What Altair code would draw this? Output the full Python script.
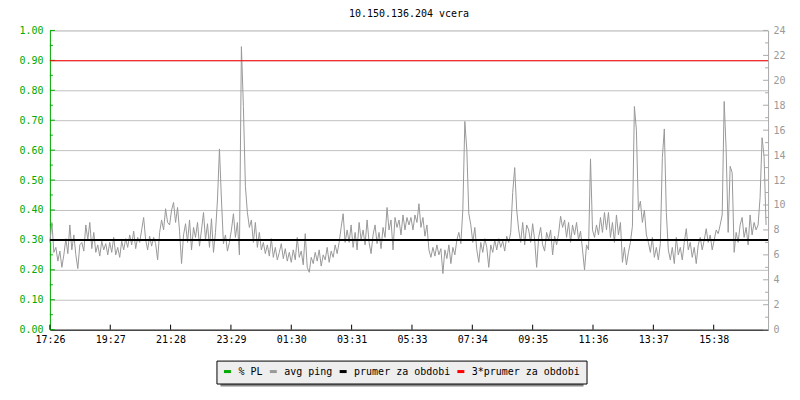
import altair as alt
import pandas as pd

# ---- data (avg ping in ms, one value every 4 minutes from 17:26) ----
ping_a = [7.0, 8.6, 6.2, 6.6, 5.5, 6.3, 5.0, 6.0, 7.3, 6.1, 8.4, 6.4, 7.6, 6.0, 4.9, 6.8, 7.0, 6.3, 8.4, 7.2, 8.6, 6.5, 7.8, 6.2, 6.8, 5.9, 7.1, 6.4, 6.9, 6.0]
ping_b = [7.0, 6.2, 7.4, 6.0, 6.6, 5.8, 7.1, 6.4, 7.3, 6.6, 7.6, 6.8, 7.9, 6.5, 7.4, 7.0, 8.0, 9.0, 7.2, 6.4, 7.5, 6.7, 7.4, 6.9, 5.6, 7.8, 8.8, 8.0, 9.7, 8.6]
ping_c = [8.4, 9.6, 10.2, 8.6, 9.8, 7.9, 5.3, 7.6, 8.5, 7.0, 8.8, 6.4, 8.2, 7.4, 8.6, 6.7, 8.0, 9.4, 7.2, 8.5, 6.6, 8.9, 6.2, 7.8, 10.4, 14.5, 10.4, 6.9, 7.6, 6.3]
ping_d = [7.0, 8.0, 9.3, 7.4, 8.6, 6.0, 22.7, 17.9, 11.5, 9.4, 8.2, 8.8, 7.0, 8.6, 6.6, 7.8, 6.4, 7.0, 6.1, 6.8, 5.9, 7.3, 5.8, 6.6, 5.6, 6.2, 6.9, 5.7, 6.5, 5.5]
ping_e = [6.2, 5.4, 6.4, 5.6, 7.4, 5.8, 6.3, 5.2, 7.7, 5.0, 4.6, 5.8, 5.3, 6.2, 5.5, 6.4, 5.1, 6.0, 5.6, 6.6, 5.4, 6.3, 5.8, 6.8, 6.1, 7.0, 8.2, 9.3, 7.0, 8.0]
ping_f = [7.0, 8.4, 6.6, 7.8, 6.4, 8.6, 7.2, 8.0, 6.8, 8.8, 7.0, 6.1, 7.6, 8.4, 6.9, 7.8, 6.5, 8.2, 7.4, 9.8, 8.0, 8.8, 6.4, 9.0, 8.2, 8.8, 7.6, 9.2, 8.0, 9.0]
ping_g = [8.4, 9.0, 8.0, 9.2, 8.6, 10.1, 8.2, 9.0, 7.5, 8.4, 6.4, 5.8, 6.6, 5.9, 6.8, 6.0, 6.5, 4.5, 6.4, 5.7, 6.8, 5.3, 6.6, 6.0, 7.2, 7.8, 6.9, 9.6, 16.7, 14.4]
ping_h = [9.3, 8.4, 7.0, 8.2, 6.4, 5.4, 7.0, 6.2, 7.3, 6.6, 5.0, 6.8, 6.2, 7.2, 6.4, 7.3, 6.6, 7.1, 6.3, 7.5, 7.0, 7.8, 11.0, 13.0, 9.6, 8.0, 7.0, 8.6, 6.8, 8.4]
ping_i = [8.0, 7.0, 8.5, 7.2, 5.0, 7.4, 8.2, 6.8, 6.3, 7.8, 7.2, 8.0, 6.0, 7.5, 6.8, 7.7, 9.1, 8.2, 8.8, 7.4, 8.6, 7.0, 8.4, 7.6, 8.6, 7.2, 7.9, 6.4, 4.8, 6.8]
ping_j = [6.4, 13.7, 8.0, 7.4, 8.4, 7.6, 9.0, 7.8, 9.4, 8.0, 9.4, 7.4, 8.6, 7.0, 9.2, 7.6, 8.6, 5.4, 6.6, 5.2, 6.2, 7.0, 8.3, 17.9, 16.0, 9.6, 10.3, 8.6, 9.6, 7.6]
ping_k = [7.0, 6.2, 7.4, 5.8, 6.6, 5.6, 6.9, 13.8, 16.1, 9.4, 6.4, 5.6, 6.6, 5.3, 7.4, 6.0, 6.6, 5.6, 7.0, 8.1, 6.4, 7.0, 5.8, 6.6, 5.3, 6.8, 7.4, 6.4, 7.2, 8.1]
ping_l = [7.0, 7.6, 6.4, 7.2, 8.0, 7.7, 8.4, 9.2, 18.3, 14.4, 7.8, 13.1, 12.6, 6.2, 7.8, 7.0, 8.4, 9.0, 7.4, 8.2, 6.8, 9.2, 7.6, 8.6, 8.0, 8.4, 10.6, 15.4, 13.9, 8.4]
ping = ping_a + ping_b + ping_c + ping_d + ping_e + ping_f + ping_g + ping_h + ping_i + ping_j + ping_k + ping_l
step_minutes = 4

prumer = 7.19          # mean over period (ms) -> 0.30 on the left axis
prumer3 = 21.57        # 3 * mean

tick_labels = ["17:26", "19:27", "21:28", "23:29", "01:30", "03:31",
               "05:33", "07:34", "09:35", "11:36", "13:37", "15:38"]
tick_minutes = [0, 121, 242, 363, 484, 605, 726, 847, 968, 1089, 1210, 1331]
left_major = [0.0, 0.1, 0.2, 0.3, 0.4, 0.5, 0.6, 0.7, 0.8, 0.9, 1.0]
left_minor = [0.05, 0.15, 0.25, 0.35, 0.45, 0.55, 0.65, 0.75, 0.85, 0.95]
right_major = [0, 2, 4, 6, 8, 10, 12, 14, 16, 18, 20, 22, 24]
right_minor = [1, 3, 5, 7, 9, 11, 13, 15, 17, 19, 21, 23]
legend_names = ["% PL", "avg ping", "prumer za obdobi", "3*prumer za obdobi"]

# ---- styling ----
MONO = "DejaVu Sans Mono"
GREEN = "#00aa00"
GRAY = "#999999"
GRID = "#c0c0c0"
legend_colors = [GREEN, GRAY, "#000000", "#ff0000"]

ping_df = pd.DataFrame({"t": [i * step_minutes for i in range(len(ping))], "ping": ping,
                        "s": legend_names[1]})

x_scale = alt.Scale(domain=[0, 1440], nice=False, zero=False)
label_array = "[" + ",".join("'" + s + "'" for s in tick_labels) + "]"
x_axis = alt.Axis(values=tick_minutes, labelExpr=label_array + "[round(datum.value/121)]",
                  ticks=False, grid=False, domainColor="black", labelColor="black",
                  labelFont=MONO, labelFontSize=10, labelPadding=5, title=None,
                  labelFlush=False)

left_scale = alt.Scale(domain=[0, 1], nice=False)
left_axis = alt.Axis(orient="left", values=left_major, format=".2f", labelColor=GREEN,
                     domainColor=GREEN, ticks=False, grid=True, gridColor=GRID,
                     labelFont=MONO, labelFontSize=10, labelPadding=7, title=None)

right_scale = alt.Scale(domain=[0, 24], nice=False)
right_axis = alt.Axis(orient="right", values=right_major, format="d", labelColor=GRAY,
                      domainColor="#aaaaaa", ticks=False, grid=False,
                      labelFont=MONO, labelFontSize=10, labelPadding=5, title=None)

color_scale = alt.Scale(domain=legend_names, range=legend_colors)
legend = alt.Legend(orient="none", legendX=167, legendY=331, direction="horizontal",
                    title=None, fillColor="#eeeeee", strokeColor="black", padding=6,
                    symbolType="stroke", symbolStrokeWidth=3, symbolSize=49,
                    labelFont=MONO, labelFontSize=10, labelOffset=6, columnPadding=0,
                    labelLimit=400)

def ccolor():
    return alt.Color("s:N", scale=color_scale, legend=legend, sort=legend_names)

# ---- left (% PL) scale group: gridlines, labels, inward ticks ----
left_major_ticks = alt.Chart(pd.DataFrame({"v": left_major})).mark_rule(color=GREEN).encode(
    y=alt.Y("v:Q", scale=left_scale, axis=left_axis), x=alt.value(0), x2=alt.value(5))
left_minor_ticks = alt.Chart(pd.DataFrame({"v": left_minor})).mark_rule(color=GREEN).encode(
    y=alt.Y("v:Q", scale=left_scale, axis=left_axis), x=alt.value(0), x2=alt.value(3))
left_group = alt.layer(left_major_ticks, left_minor_ticks)

# ---- right (avg ping) scale group ----
shadow = alt.Chart(pd.DataFrame({"a": [0]})).mark_rect(color="#888888").encode(
    x=alt.value(171), x2=alt.value(535), y=alt.value(335), y2=alt.value(357))

ping_line = alt.Chart(ping_df).mark_line(strokeWidth=1).encode(
    x=alt.X("t:Q", scale=x_scale, axis=x_axis),
    y=alt.Y("ping:Q", scale=right_scale, axis=right_axis),
    color=ccolor())

mean_rule = alt.Chart(pd.DataFrame({"ping": [prumer], "s": [legend_names[2]]})).mark_rule(strokeWidth=2).encode(
    y=alt.Y("ping:Q", scale=right_scale, axis=right_axis), color=ccolor())
red_rule = alt.Chart(pd.DataFrame({"ping": [prumer3], "s": [legend_names[3]]})).mark_rule(strokeWidth=1).encode(
    y=alt.Y("ping:Q", scale=right_scale, axis=right_axis), color=ccolor())

right_major_ticks = alt.Chart(pd.DataFrame({"ping": right_major})).mark_rule(color="#aaaaaa").encode(
    y=alt.Y("ping:Q", scale=right_scale, axis=right_axis), x=alt.value(720), x2=alt.value(715))
right_minor_ticks = alt.Chart(pd.DataFrame({"ping": right_minor})).mark_rule(color="#aaaaaa").encode(
    y=alt.Y("ping:Q", scale=right_scale, axis=right_axis), x=alt.value(720), x2=alt.value(717))

x_ticks = alt.Chart(pd.DataFrame({"t": tick_minutes})).mark_rule(color="black").encode(
    x=alt.X("t:Q", scale=x_scale, axis=x_axis), y=alt.value(300), y2=alt.value(295))

right_group = alt.layer(shadow, ping_line, mean_rule, red_rule,
                        right_major_ticks, right_minor_ticks, x_ticks)

chart = alt.layer(left_group, right_group).resolve_scale(y="independent").properties(
    width=720, height=300,
    title=alt.TitleParams("10.150.136.204 vcera", font=MONO, fontSize=10,
                          fontWeight="normal", anchor="middle", offset=6, color="black"),
    autosize=alt.AutoSizeParams(type="none"),
    padding={"left": 42, "top": 22, "right": 24, "bottom": 62},
).configure_view(stroke=None).configure(font=MONO)

chart.save("out.html", embed_options={"renderer": "svg", "actions": False})
